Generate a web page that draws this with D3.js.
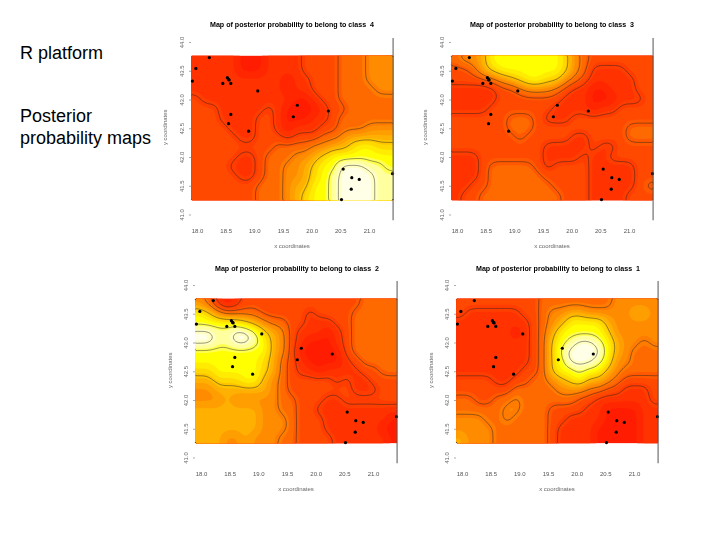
<!DOCTYPE html>
<html><head><meta charset="utf-8">
<script src="https://cdn.jsdelivr.net/npm/d3@7"></script>
<style>html,body{margin:0;padding:0;background:#fff}svg{display:block}</style>
</head><body><svg id="c" width="720" height="540"></svg>
<script>
const leftLines = ["R platform","Posterior","probability maps"];
const xTickValues = [18,18.5,19,19.5,20,20.5,21];
const yTickValues = [41,41.5,42,42.5,43,43.5,44];
const fieldLon = [17.9,21.42];
const fieldLat = [41.25,43.76];
const siteLon = [18.215,17.98,17.92,18.45,18.53,18.55,18.56,18.59,19.06,19.75,20.29,19.68,18.59,18.55,18.90,20.55,20.70,20.83,20.69,20.52,21.41];
const siteLat = [43.73,43.54,43.32,43.28,43.38,43.35,43.34,43.28,43.15,42.90,42.80,42.70,42.74,42.58,42.45,41.79,41.64,41.61,41.44,41.26,41.71];
const levelColors = ["#ff1e00","#ff3000","#ff4800","#ff6a00","#ff8c00","#ffb000","#ffd800","#ffff00","#ffffa0","#ffffe8"];
const lineLevels = [1.5,2.5,3.5,5.5,7.5,8.5];
const class4 = [
[1,1,1,1,1,0,0,0,1,1,1,1,2,2,2,2,3,3,3,4,4,4],
[1,1,1,1,1,0,0,0,1,1,1,1,2,2,2,2,3,3,3,4,4,4],
[1,1,1,1,1,1,1,1,1,1,0,1,1,2,2,2,3,3,3,4,4,4],
[1,1,1,1,1,1,1,1,1,1,0,1,1,2,2,2,3,3,3,3,4,4],
[2,1,1,1,1,1,1,1,1,1,1,0,0,1,2,2,3,3,3,3,3,3],
[2,2,2,1,1,1,1,1,2,1,0,0,0,0,1,2,2,3,3,3,3,3],
[2,2,2,1,1,1,1,2,2,1,0,0,0,1,1,2,3,3,3,3,3,3],
[2,2,2,2,1,1,1,2,2,1,0,1,1,1,2,2,3,3,3,4,4,4],
[2,2,2,2,2,1,1,2,2,2,1,2,2,2,3,3,4,5,5,5,5,5],
[2,2,2,2,2,2,2,2,2,3,3,3,3,4,4,5,5,6,7,7,6,6],
[2,2,2,2,2,1,1,2,3,3,3,4,4,5,6,7,7,7,7,7,7,7],
[2,2,2,2,1,1,1,2,3,3,4,4,5,6,7,7,9,9,9,8,8,7],
[2,2,2,2,2,1,1,2,3,3,4,4,5,6,7,8,9,9,9,9,8,8],
[2,2,2,2,2,2,2,3,3,3,4,5,5,7,7,8,9,9,9,9,8,8],
[2,2,2,2,2,2,2,3,3,3,4,5,6,7,7,8,9,9,9,9,8,8]];
const class3 = [
[3,4,4,5,7,7,7,7,7,7,7,7,6,4,3,2,2,2,2,2,2,2],
[2,2,3,5,6,7,7,7,7,7,7,7,6,4,3,1,1,1,1,2,2,2],
[2,2,2,2,3,4,5,6,7,7,6,6,4,3,2,1,1,1,1,1,2,2],
[1,1,1,1,1,2,2,3,4,4,4,3,2,1,1,0,0,1,1,1,2,2],
[1,1,1,1,1,2,2,2,2,2,2,2,1,1,1,0,0,0,1,1,1,2],
[1,1,1,1,2,2,2,2,2,2,2,1,1,1,1,0,1,1,2,2,2,2],
[2,2,2,2,2,2,3,3,3,2,1,1,1,2,2,2,2,2,2,2,2,2],
[2,2,2,2,2,2,3,3,3,2,2,2,2,2,2,2,2,2,2,3,3,3],
[2,2,2,2,2,2,2,3,2,2,2,2,2,1,1,2,2,2,2,3,3,3],
[2,2,2,2,2,2,2,2,2,2,1,1,1,1,1,2,1,1,2,2,2,2],
[1,1,1,2,2,2,2,2,2,2,1,1,1,1,2,1,1,2,2,2,2,2],
[1,1,1,2,3,3,3,3,3,2,1,2,2,2,2,1,1,1,1,1,2,2],
[1,1,1,2,3,3,3,3,3,3,2,2,2,2,2,1,1,1,1,1,2,2],
[1,1,2,2,3,3,3,3,3,3,3,2,2,2,2,1,1,1,1,1,2,3],
[1,2,2,3,3,3,3,3,3,3,3,3,2,2,2,1,1,1,1,2,2,2]];
const class2 = [
[4,3,1,0,1,2,2,2,2,2,2,2,2,2,2,2,2,2,3,3,3,3],
[7,6,4,3,3,3,3,2,2,2,2,2,1,2,2,2,2,3,3,3,3,3],
[7,7,7,7,7,6,5,4,3,3,2,2,1,1,1,2,2,3,3,3,3,3],
[9,9,8,8,9,9,8,6,5,4,2,1,1,1,0,1,2,3,3,3,3,3],
[9,9,8,8,9,9,8,7,5,4,2,1,0,0,0,1,2,3,3,3,3,3],
[7,7,7,7,7,7,7,7,5,4,2,0,0,0,0,0,2,3,3,3,3,3],
[7,7,7,7,7,7,7,6,5,3,2,1,0,0,0,0,1,2,3,3,3,3],
[6,6,7,7,7,7,7,6,5,3,2,1,1,0,1,1,1,1,2,2,3,3],
[5,5,6,6,6,7,7,5,4,3,2,2,2,2,2,1,2,1,1,2,2,2],
[4,4,5,5,5,5,5,5,4,3,2,2,2,2,2,2,2,1,1,1,2,2],
[4,4,4,5,4,4,4,4,4,3,3,2,2,2,1,1,2,2,2,2,2,2],
[5,5,5,5,5,5,5,4,4,3,3,2,2,1,1,1,1,1,1,1,1,1],
[5,5,5,5,5,5,5,4,4,4,3,2,2,2,1,1,1,1,1,1,1,0],
[5,5,5,5,5,5,5,4,4,4,3,2,2,2,1,1,1,1,1,1,0,0],
[5,5,5,4,4,5,4,4,4,3,3,2,2,2,2,1,1,1,1,1,1,0]];
const class1 = [
[2,2,2,2,2,2,2,2,2,3,3,3,3,3,3,3,3,4,4,4,4,4],
[2,1,1,1,1,1,1,2,2,3,4,4,5,5,4,4,4,4,4,5,5,4],
[1,1,1,1,1,1,1,1,2,3,4,5,7,7,7,7,5,4,4,4,4,4],
[1,1,1,1,1,1,0,1,2,3,5,7,7,7,7,7,6,4,4,4,4,4],
[1,1,1,1,1,1,1,1,2,3,6,7,8,9,9,8,7,5,4,4,3,4],
[1,1,1,1,1,1,1,1,2,3,6,8,9,9,9,9,7,5,4,3,3,3],
[1,1,1,1,1,1,1,1,2,3,6,7,9,9,9,8,7,4,4,3,3,3],
[1,1,1,1,1,1,1,2,2,3,6,7,7,8,7,7,5,4,3,3,3,3],
[2,2,2,2,1,1,2,2,3,3,4,5,6,7,5,5,4,3,2,2,2,2],
[2,2,2,2,2,2,3,3,3,3,3,4,4,4,3,3,2,2,1,1,1,2],
[3,3,2,2,3,3,4,3,3,3,3,3,3,2,2,1,1,1,1,1,1,2],
[3,3,3,3,3,4,4,3,3,3,2,2,2,2,1,1,0,0,0,0,1,1],
[4,4,4,3,3,4,3,3,3,3,2,2,1,1,1,1,0,0,0,0,1,1],
[4,4,4,4,3,3,3,3,3,3,2,1,1,1,1,0,0,0,0,0,1,1],
[5,4,4,4,3,3,3,3,3,3,2,1,1,1,1,0,0,0,0,0,1,1]];

const panels = [
 {id:4,grid:class4,x0:197,y0:42,titleX:292,titleY:26.5,ylabX:167},
 {id:3,grid:class3,x0:457,y0:42,titleX:552,titleY:26.5,ylabX:427},
 {id:2,grid:class2,x0:201,y0:285,titleX:297,titleY:270.5,ylabX:172},
 {id:1,grid:class1,x0:462,y0:285,titleX:558,titleY:270.5,ylabX:433}
];
const svg = d3.select("#c");
const FONT = "'Liberation Sans',Arial,sans-serif";
const defs = svg.append("defs");
defs.append("filter").attr("id","soft").attr("x","-5%").attr("y","-5%").attr("width","110%").attr("height","110%")
  .append("feGaussianBlur").attr("stdDeviation",0.4);
svg.append("g").selectAll("text").data(leftLines).join("text")
  .attr("x",20).attr("y",(d,i)=>[59,122,144][i])
  .attr("font-family",FONT).attr("font-size",18).attr("fill","#000").text(d=>d);

const colorOf = d3.scaleLinear().domain(d3.range(10)).range(levelColors).clamp(true);
const UP = 6;
panels.forEach(p=>{
  const x = d3.scaleLinear().domain([18,21]).range([p.x0,p.x0+172]);
  const y = d3.scaleLinear().domain([44,41]).range([p.y0,p.y0+172.5]);
  const g = svg.append("g").attr("filter","url(#soft)");
  const rows = p.grid.length, cols = p.grid[0].length;
  const W = cols*UP, H = rows*UP;
  const fine = new Float64Array(W*H);
  for(let r=0;r<H;r++) for(let c=0;c<W;c++) fine[r*W+c] = p.grid[Math.floor(r/UP)][Math.floor(c/UP)];
  d3.blur2({data:fine,width:W,height:H},UP*0.45);
  const gx = d3.scaleLinear().domain([0,W]).range([x(fieldLon[0]),x(fieldLon[1])]);
  const gy = d3.scaleLinear().domain([0,H]).range([y(fieldLat[1]),y(fieldLat[0])]);
  const path = d3.geoPath(d3.geoTransform({point(a,b){this.stream.point(gx(a),gy(b));}}));
  const contours = d3.contours().size([W,H]);
  g.append("rect").attr("x",gx(0)).attr("y",gy(0)).attr("width",gx(W)-gx(0)).attr("height",gy(H)-gy(0)).attr("fill",levelColors[0]);
  const bands = d3.range(0.25,9,0.5);
  g.selectAll("path.f").data(bands).join("path").attr("class","f")
    .attr("fill",t=>colorOf(t+0.25))
    .attr("d",t=>path(contours.contour(fine,t)));
  const onEdge = (a,b)=>(a[0]<=0&&b[0]<=0)||(a[0]>=W&&b[0]>=W)||(a[1]<=0&&b[1]<=0)||(a[1]>=H&&b[1]>=H);
  g.selectAll("path.l").data(lineLevels).join("path").attr("class","l")
    .attr("fill","none").attr("stroke","#222").attr("stroke-opacity",0.8).attr("stroke-width",0.6)
    .attr("d",t=>{
      const lines=[];
      contours.contour(fine,t).coordinates.flat().forEach(ring=>{
        let cur=[];
        for(let i=0;i<ring.length;i++){
          if(i>0&&onEdge(ring[i-1],ring[i])){ if(cur.length>1)lines.push(cur); cur=[]; }
          cur.push(ring[i]);
        }
        if(cur.length>1)lines.push(cur);
      });
      return path({type:"MultiLineString",coordinates:lines});
    });
  g.selectAll("circle").data(siteLon.map((l,i)=>[l,siteLat[i]])).join("circle")
    .attr("cx",d=>x(d[0])).attr("cy",d=>y(d[1])).attr("r",1.6).attr("fill","#000");
  g.append("line").attr("x1",x(fieldLon[1])).attr("x2",x(fieldLon[1]))
    .attr("y1",y(44.07)).attr("y2",y(40.9)).attr("stroke","#555").attr("stroke-width",1);
  const ax = g.append("g").attr("transform",`translate(0,${y(41)+12})`)
    .call(d3.axisBottom(x).tickValues(xTickValues).tickSize(0).tickFormat(d3.format(".1f")));
  ax.select(".domain").remove();
  ax.selectAll("text").attr("font-family",FONT).attr("font-size",6).attr("fill","#555").attr("dy",0).attr("y",6.5);
  const ay = g.append("g").attr("transform",`translate(${x(18)-6},0)`)
    .call(d3.axisLeft(y).tickValues(yTickValues).tickSize(2).tickFormat(d3.format(".1f")));
  ay.select(".domain").remove();
  ay.selectAll("line").attr("stroke","#aaa");
  ay.selectAll("text").attr("font-family",FONT).attr("font-size",6).attr("fill","#666")
    .attr("text-anchor","middle").attr("x",0).attr("y",0).attr("dy",0)
    .attr("transform","translate(-7,0) rotate(-90)");
  g.append("text").attr("x",x(18)+95).attr("y",y(41)+33).attr("text-anchor","middle")
    .attr("font-family",FONT).attr("font-size",6).attr("fill","#666").text("x coordinates");
  g.append("text").attr("transform",`translate(${p.ylabX},${y(42.5)-1}) rotate(-90)`).attr("text-anchor","middle")
    .attr("font-family",FONT).attr("font-size",6).attr("fill","#666").text("y coordinates");
  g.append("text").attr("x",p.titleX).attr("y",p.titleY).attr("text-anchor","middle")
    .attr("font-family",FONT).attr("font-size",7.1).attr("font-weight","bold").attr("fill","#000")
    .style("white-space","pre").text("Map of posterior probability to belong to class  "+p.id);
});
</script></body></html>
